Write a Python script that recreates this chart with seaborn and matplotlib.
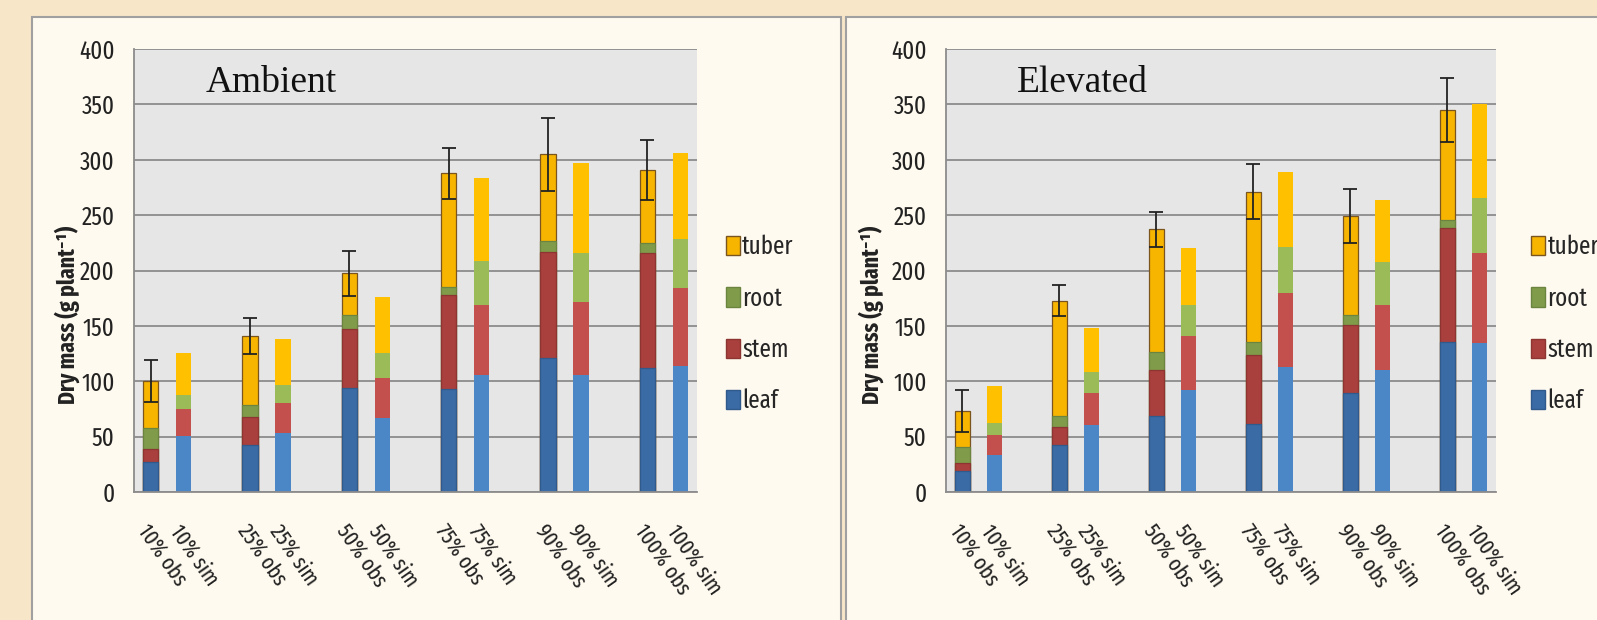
import pandas as pd
import matplotlib.pyplot as plt
import seaborn as sns
from matplotlib.patches import Rectangle, Patch
from matplotlib.ticker import FixedLocator

# chart data (g plant-1)
treatments = ["10%", "25%", "50%", "75%", "90%", "100%"]
parts = ["leaf", "stem", "root", "tuber"]

amb_obs_leaf = [27.4, 42.0, 93.6, 92.7, 120.7, 111.7]
amb_obs_stem = [11.4, 26.0, 53.3, 85.2, 96.3, 103.8]
amb_obs_root = [18.7, 10.6, 12.9, 6.9, 9.6, 9.6]
amb_obs_tuber = [43.0, 62.3, 37.6, 102.9, 78.3, 65.6]
amb_obs_err = [19, 16, 20, 23, 33, 27]

amb_sim_leaf = [50.6, 53.0, 66.5, 105.6, 105.6, 113.8]
amb_sim_stem = [24.0, 27.7, 36.1, 63.2, 66.2, 70.7]
amb_sim_root = [13.0, 15.9, 22.6, 39.8, 43.7, 43.6]
amb_sim_tuber = [37.6, 41.2, 51.2, 74.6, 81.3, 78.3]

ele_obs_leaf = [19.3, 42.4, 68.9, 61.4, 89.1, 135.7]
ele_obs_stem = [7.2, 16.6, 41.3, 62.3, 61.7, 102.4]
ele_obs_root = [13.8, 9.9, 16.5, 12.0, 9.0, 7.5]
ele_obs_tuber = [32.8, 103.6, 110.5, 135.5, 89.4, 99.3]
ele_obs_err = [19, 14, 16, 25, 24, 29]

ele_sim_leaf = [33.4, 60.5, 92.1, 113.1, 110.2, 134.3]
ele_sim_stem = [18.1, 29.2, 48.8, 66.3, 58.6, 81.8]
ele_sim_root = [10.5, 18.9, 27.9, 42.1, 39.2, 49.1]
ele_sim_tuber = [33.7, 39.2, 51.2, 67.7, 55.7, 85.1]

# x slots: obs, sim, gap for each treatment (gap names are unique blanks)
order = []
for i, t in enumerate(treatments):
    order += [t + " obs", t + " sim"]
    if i < len(treatments) - 1:
        order.append(" " * (i + 1))

obs_colors = {"leaf": "#3B6BA5", "stem": "#A9403D", "root": "#809C4A", "tuber": "#F7B500"}
obs_edges = {"leaf": "#30598C", "stem": "#8C3532", "root": "#6B8440", "tuber": "#7A5520"}
sim_colors = {"leaf": "#4B86C6", "stem": "#C4504D", "root": "#9BBB59", "tuber": "#FFC000"}


def make_df(leaf, stem, root, tuber, kind):
    df = pd.DataFrame({"treatment": treatments, "leaf": leaf, "stem": stem,
                       "root": root, "tuber": tuber})
    df["label"] = df["treatment"] + " " + kind
    # cumulative tops for stacking
    df[parts] = df[parts].cumsum(axis=1)
    return df


panels = [
    ("Ambient",
     make_df(amb_obs_leaf, amb_obs_stem, amb_obs_root, amb_obs_tuber, "obs"),
     make_df(amb_sim_leaf, amb_sim_stem, amb_sim_root, amb_sim_tuber, "sim"),
     amb_obs_err),
    ("Elevated",
     make_df(ele_obs_leaf, ele_obs_stem, ele_obs_root, ele_obs_tuber, "obs"),
     make_df(ele_sim_leaf, ele_sim_stem, ele_sim_root, ele_sim_tuber, "sim"),
     ele_obs_err),
]

sns.set_style("white")
plt.rcParams["font.family"] = ["Fira Sans Extra Condensed", "Fira Sans Condensed",
                               "Liberation Sans", "DejaVu Sans"]

W, H = 1597, 620
fig = plt.figure(figsize=(W / 100, H / 100), dpi=100, facecolor="#F8E6C8")

# white-ish panel boxes
for x0, x1 in [(32, 841), (846, 1610)]:
    fig.add_artist(Rectangle((x0 / W, -0.05), (x1 - x0) / W, 1.05 - 17 / H,
                             transform=fig.transFigure, facecolor="#FFFAEF",
                             edgecolor="#A0A0A0", linewidth=1.5, zorder=0))

axes_px = [(134, 563), (946, 550)]
ylabel_px = [80, 884]
legend_x = [726, 1531]

for (title, obs, sim, err), (ax_x, ax_w), yl, lx in zip(panels, axes_px, ylabel_px, legend_x):
    ax = fig.add_axes([ax_x / W, 128 / H, ax_w / W, 443 / H])
    ax.set_facecolor("#E6E6E6")

    # stacked bars: draw the tallest cumulative layer first
    for part in reversed(parts):
        sns.barplot(data=obs, x="label", y=part, order=order, color=obs_colors[part],
                    saturation=1, width=0.46, errorbar=None, edgecolor=obs_edges[part],
                    linewidth=0.9, ax=ax, zorder=2)
        sns.barplot(data=sim, x="label", y=part, order=order, color=sim_colors[part],
                    saturation=1, width=0.46, errorbar=None, linewidth=0, ax=ax, zorder=2)

    xpos = [order.index(l) for l in obs["label"]]
    ax.errorbar(xpos, obs["tuber"], yerr=err, fmt="none", ecolor="#222222",
                elinewidth=1.3, capsize=5, capthick=1.3, zorder=4)

    ax.set_ylim(0, 400)
    ax.set_xlim(-0.5, len(order) - 0.5)
    ax.set_yticks(range(0, 401, 50))
    ax.yaxis.grid(True, color="#8C8C8C", linewidth=1.3)
    ax.xaxis.grid(False)
    ax.set_axisbelow(True)

    for s in ["top", "right"]:
        ax.spines[s].set_visible(False)
    for s in ["left", "bottom"]:
        ax.spines[s].set_color("#8C8C8C")
        ax.spines[s].set_linewidth(1.3)

    ax.set_xticks(range(len(order)))
    ax.set_xticklabels([l if l.strip() else "" for l in order], rotation=-55,
                       ha="left", va="top", rotation_mode="anchor", fontsize=16,
                       color="#222222")
    ax.tick_params(axis="x", which="major", length=0, pad=21)
    ax.xaxis.set_minor_locator(FixedLocator([i - 0.5 for i in range(len(order) + 1)]))
    ax.tick_params(axis="x", which="minor", length=8, width=1.2, color="#8C8C8C")
    ax.tick_params(axis="y", length=5, width=1.2, color="#8C8C8C", pad=9,
                   labelsize=18, labelcolor="#222222")

    ax.set_xlabel("")
    ax.set_ylabel("Dry mass (g plant⁻¹)", fontsize=17, fontweight="bold",
                  color="#222222")
    ax.yaxis.set_label_coords((yl - ax_x) / ax_w, 0.40)

    ax.text(0.128, 0.903, title, transform=ax.transAxes, fontsize=27,
            family=["Liberation Serif", "DejaVu Serif"], va="baseline", color="#111111")

    handles = [Patch(facecolor=obs_colors[p], edgecolor=obs_edges[p]) for p in reversed(parts)]
    ax.legend(handles, list(reversed(parts)), loc="center left",
              bbox_to_anchor=(lx / W, 1 - 324 / H), bbox_transform=fig.transFigure,
              frameon=False, fontsize=18, handlelength=0.55, handleheight=0.8,
              handletextpad=0.1, labelspacing=1.05, borderpad=0, borderaxespad=0)

plt.savefig("out.png", dpi=100, facecolor=fig.get_facecolor())
